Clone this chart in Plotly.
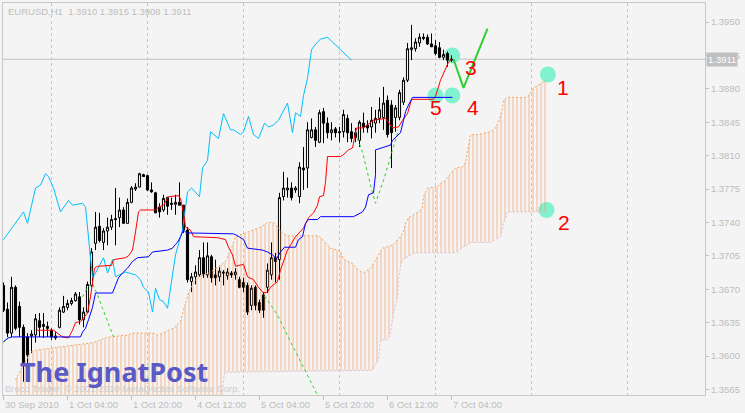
import plotly.graph_objects as go

# ---------------- data ----------------
time_tick_idx = [0, 16, 32, 48, 64, 80, 96, 112]
time_tick_text = ["30 Sep 2010", "1 Oct 04:00", "1 Oct 20:00", "4 Oct 12:00",
                  "5 Oct 04:00", "5 Oct 20:00", "6 Oct 12:00", "7 Oct 04:00"]
price_ticks = [1.3565, 1.3600, 1.3635, 1.3670, 1.3705, 1.3740, 1.3775,
               1.3810, 1.3845, 1.3880, 1.3915, 1.3950]

bar_idx = list(range(113))
opens = [1.3674,1.3649,1.3624,1.3672,1.3652,1.3630,1.3620,1.3621,1.3622,1.3637,
         1.3631,1.3631,1.3627,1.3619,1.3630,1.3646,1.3651,1.3655,1.3658,1.3662,
         1.3638,1.3646,1.3674,1.3718,1.3736,1.3719,1.3731,1.3735,1.3744,1.3745,
         1.3753,1.3739,1.3761,1.3775,1.3777,1.3790,1.3789,1.3774,1.3771,1.3756,
         1.3753,1.3766,1.3760,1.3759,1.3761,1.3758,1.3732,1.3678,1.3683,1.3685,
         1.3703,1.3685,1.3704,1.3685,1.3683,1.3688,1.3684,1.3687,1.3685,1.3680,
         1.3677,1.3674,1.3653,1.3672,1.3656,1.3664,1.3672,1.3685,1.3703,1.3701,
         1.3767,1.3774,1.3776,1.3774,1.3767,1.3797,1.3797,1.3829,1.3837,1.3824,
         1.3856,1.3844,1.3834,1.3838,1.3834,1.3835,1.3849,1.3835,1.3834,1.3826,
         1.3844,1.3842,1.3840,1.3844,1.3849,1.3850,1.3868,1.3863,1.3850,1.3850,
         1.3866,1.3889,1.3921,1.3922,1.3928,1.3934,1.3934,1.3927,1.3925,1.3923,
         1.3913,1.3917,1.3910]
highs = [1.3677,1.3656,1.3683,1.3674,1.3657,1.3633,1.3624,1.3627,1.3644,1.3645,
         1.3645,1.3636,1.3629,1.3625,1.3651,1.3663,1.3659,1.3661,1.3667,1.3667,
         1.3651,1.3678,1.3713,1.3751,1.3750,1.3734,1.3745,1.3748,1.3776,1.3766,
         1.3756,1.3765,1.3778,1.3781,1.3792,1.3791,1.3790,1.3782,1.3772,1.3760,
         1.3769,1.3767,1.3766,1.3769,1.3782,1.3758,1.3735,1.3687,1.3695,1.3711,
         1.3719,1.3719,1.3706,1.3701,1.3693,1.3690,1.3692,1.3689,1.3692,1.3683,
         1.3682,1.3677,1.3674,1.3674,1.3659,1.3667,1.3697,1.3719,1.3708,1.3771,
         1.3793,1.3787,1.3782,1.3778,1.3803,1.3819,1.3845,1.3849,1.3840,1.3858,
         1.3860,1.3850,1.3845,1.3840,1.3840,1.3858,1.3853,1.3844,1.3839,1.3847,
         1.3855,1.3847,1.3861,1.3858,1.3871,1.3882,1.3873,1.3868,1.3863,1.3879,
         1.3892,1.3928,1.3947,1.3933,1.3938,1.3938,1.3937,1.3938,1.3931,1.3929,
         1.3921,1.3919,1.3915]
lows = [1.3646,1.3620,1.3620,1.3627,1.3620,1.3573,1.3582,1.3603,1.3614,1.3620,
        1.3619,1.3620,1.3617,1.3617,1.3629,1.3645,1.3648,1.3653,1.3657,1.3633,
        1.3630,1.3645,1.3672,1.3711,1.3719,1.3711,1.3716,1.3732,1.3716,1.3735,
        1.3739,1.3739,1.3760,1.3773,1.3777,1.3788,1.3773,1.3771,1.3750,1.3745,
        1.3751,1.3748,1.3753,1.3748,1.3758,1.3729,1.3677,1.3667,1.3675,1.3683,
        1.3682,1.3682,1.3677,1.3674,1.3678,1.3674,1.3680,1.3682,1.3680,1.3671,
        1.3667,1.3643,1.3648,1.3648,1.3645,1.3640,1.3666,1.3680,1.3677,1.3680,
        1.3763,1.3766,1.3763,1.3771,1.3760,1.3774,1.3776,1.3828,1.3819,1.3823,
        1.3823,1.3828,1.3826,1.3829,1.3824,1.3829,1.3824,1.3824,1.3824,1.3819,
        1.3834,1.3834,1.3828,1.3834,1.3844,1.3837,1.3829,1.3797,1.3835,1.3847,
        1.3863,1.3887,1.3910,1.3919,1.3924,1.3931,1.3926,1.3924,1.3915,1.3912,
        1.3910,1.3903,1.3908]
closes = [1.3648,1.3624,1.3672,1.3629,1.3630,1.3593,1.3601,1.3623,1.3639,1.3630,
          1.3633,1.3629,1.3620,1.3621,1.3648,1.3652,1.3655,1.3658,1.3665,1.3638,
          1.3646,1.3675,1.3709,1.3735,1.3721,1.3731,1.3735,1.3743,1.3743,1.3753,
          1.3739,1.3761,1.3776,1.3777,1.3791,1.3788,1.3774,1.3772,1.3750,1.3751,
          1.3765,1.3757,1.3759,1.3761,1.3758,1.3732,1.3680,1.3683,1.3688,1.3703,
          1.3686,1.3705,1.3682,1.3682,1.3689,1.3687,1.3688,1.3685,1.3688,1.3672,
          1.3672,1.3646,1.3671,1.3653,1.3648,1.3648,1.3690,1.3703,1.3699,1.3766,
          1.3776,1.3776,1.3766,1.3776,1.3798,1.3795,1.3837,1.3837,1.3826,1.3855,
          1.3844,1.3834,1.3837,1.3834,1.3835,1.3853,1.3834,1.3828,1.3829,1.3845,
          1.3840,1.3839,1.3847,1.3849,1.3858,1.3865,1.3832,1.3834,1.3860,1.3876,
          1.3889,1.3922,1.3923,1.3929,1.3934,1.3933,1.3927,1.3924,1.3917,1.3913,
          1.3916,1.3910,1.3911]

tenkan_x = [8.25,12.5,14.75,16.25,17.25,18,19.25,20,21,21.75,22.25,22.75,23.5,27,27.5,
            30.5,31.25,32.25,33,33.75,34.25,38,38.75,40,41.25,43.75,44.25,45,45.5,46.75,
            47.5,53.5,55.5,56.25,57.25,58,60,61,62.5,63.75,65,66,66.75,68.5,69.25,
            71,73,75,76.25,77.5,78.5,79,80,80.5,81,84.25,85,86.25,87.25,88,
            88.25,90,91.75,92.5,95.5,97.25,98.75,99.75,101,102,107.5,108,109.25,110.5,111.25,112]
tenkan = [1.3627,1.3627,1.3620,1.3619,1.3627,1.3635,1.3636,1.3640,1.3645,1.3662,
          1.3677,1.3692,1.3694,1.3695,1.3701,1.3703,1.3705,1.3711,1.3730,1.3751,
          1.3753,1.3753,1.3756,1.3758,1.3767,1.3768,1.3765,1.3750,1.3735,1.3732,
          1.3725,1.3724,1.3722,1.3714,1.3706,1.3694,1.3696,1.3683,1.3680,1.3672,
          1.3666,1.3667,1.3672,1.3678,1.3690,1.3711,1.3725,1.3734,1.3745,1.3750,
          1.3758,1.3767,1.3768,1.3782,1.3809,1.3809,1.3811,1.3816,1.3818,1.3832,
          1.3839,1.3839,1.3845,1.3847,1.3849,1.3839,1.3840,1.3847,1.3854,1.3869,
          1.3869,1.3872,1.3889,1.3902,1.3908,1.3911]

kijun_x = [0,1.25,2.25,19.25,19.75,20.5,21.25,22.25,23,27.25,28,28.75,29.75,31,32.25,
           33.5,36.25,37.25,41,42.25,43,43.5,44.25,45,45.75,57.5,58.5,60,61,64.75,
           66,67.25,68.25,69.25,70.25,73,73.75,74.75,75.5,76.25,78.5,79.25,87.5,88.5,89.75,
           90.5,91.25,92.5,93,93,95.5,96.75,97.25,98,98.75,99.25,100,100.5,101.25,102.25,112.25]
kijun = [1.3615,1.3619,1.3620,1.3620,1.3625,1.3629,1.3638,1.3651,1.3666,1.3666,
         1.3674,1.3682,1.3687,1.3692,1.3699,1.3703,1.3704,1.3709,1.3711,1.3713,
         1.3717,1.3719,1.3725,1.3732,1.3729,1.3728,1.3726,1.3722,1.3713,1.3711,
         1.3709,1.3706,1.3702,1.3709,1.3714,1.3714,1.3722,1.3725,1.3739,1.3743,
         1.3743,1.3746,1.3746,1.3748,1.3751,1.3756,1.3769,1.3771,1.3790,1.3816,
         1.3819,1.3821,1.3826,1.3829,1.3831,1.3834,1.3847,1.3856,1.3863,1.3871,1.3871]

chikou_x = [0,3.5,5,6,8,9.25,10.5,11.25,12.5,14.25,16.25,17.25,19.75,20.5,21.75,
            22.25,23,25,26,27.25,28,30.5,33,34.25,35,36.25,37.25,38,39,40,
            41,42.25,43,44.75,46,47,48,49,49.75,51,51.75,52.5,53.75,55,56.75,
            57.5,59.25,60,61.25,62.5,63.75,65.25,66.25,67.5,68.75,71,72.25,73,74.25,75,
            76,77,78.25,79.25,81,82.25,84.25,86,87]
chikou = [1.3722,1.3743,1.3751,1.3739,1.3776,1.3779,1.3791,1.3788,1.3776,1.3751,
          1.3763,1.3758,1.3760,1.3756,1.3708,1.3682,1.3687,1.3703,1.3687,1.3701,
          1.3683,1.3688,1.3685,1.3680,1.3672,1.3667,1.3646,1.3671,1.3659,1.3657,
          1.3650,1.3687,1.3706,1.3732,1.3772,1.3776,1.3772,1.3767,1.3797,1.3805,
          1.3835,1.3832,1.3828,1.3854,1.3837,1.3837,1.3832,1.3835,1.3851,1.3832,
          1.3828,1.3844,1.3840,1.3842,1.3847,1.3865,1.3834,1.3855,1.3851,1.3873,
          1.3891,1.3921,1.3928,1.3932,1.3934,1.3929,1.3921,1.3913,1.3910]

senkou_a_x = [3,5,6.75,8,11.75,16.75,22.5,25.5,26.75,31,32.5,37.5,38.5,40,41.25,
              42.5,44.25,45,46.25,47.5,48.5,50.5,51.75,53,54.25,55.5,56.25,57.25,58,59.25,
              60.5,62.25,63.75,65,66,67.5,68.75,69.75,71,78.75,80,81.75,84.25,85,87.25,
              88.75,90,91.75,92.5,93.5,94.75,97.25,98.5,99.25,100,100.5,101.25,102.5,103.75,104.75,
              105,106,108.5,109.25,110,111.25,112.25,113,114.75,115.5,116.75,118.5,121.75,123,123.75,
              124.75,125,126,131,131.75,132.5,133.75,135,136]
senkou_a = [1.3575,1.3591,1.3604,1.3606,1.3608,1.3611,1.3614,1.3619,1.3620,1.3622,
            1.3624,1.3624,1.3622,1.3624,1.3627,1.3629,1.3636,1.3648,1.3666,1.3677,
            1.3682,1.3686,1.3688,1.3692,1.3695,1.3699,1.3706,1.3716,1.3725,1.3727,
            1.3729,1.3732,1.3734,1.3737,1.3740,1.3740,1.3734,1.3729,1.3726,1.3726,
            1.3721,1.3713,1.3710,1.3701,1.3697,1.3690,1.3687,1.3692,1.3697,1.3704,
            1.3713,1.3716,1.3722,1.3725,1.3730,1.3739,1.3745,1.3748,1.3751,1.3755,
            1.3767,1.3776,1.3777,1.3781,1.3782,1.3788,1.3793,1.3797,1.3798,1.3803,
            1.3832,1.3832,1.3835,1.3839,1.3845,1.3860,1.3868,1.3871,1.3871,1.3876,
            1.3881,1.3884,1.3887,1.3891]
senkou_b_x = [3,54.25,55.25,92.25,93,93.75,94.25,96,96.75,97.25,97.5,98.5,98.75,99.25,
              99.75,101,102.5,111.75,113.5,114.75,115.5,116.75,121.75,124.25,125,126,136]
senkou_b = [1.3544,1.3544,1.3583,1.3585,1.3591,1.3596,1.3617,1.3617,1.3624,1.3638,
            1.3645,1.3662,1.3680,1.3694,1.3701,1.3704,1.3708,1.3708,1.3709,1.3714,
            1.3715,1.3719,1.3719,1.3725,1.3739,1.3751,1.3751]

lime_x = [0,1.25,None,19.75,21,22.25,23.5,24.75,26.25,27.5,None,
          65.25,68.5,71.75,78.75,None,88.5,89.75,91.75,93,95,97.25,98.75]
lime_y = [1.3614,1.3620,None,1.3662,1.3672,1.3676,1.3664,1.3650,1.3633,1.3620,None,
          1.3663,1.3643,1.3615,1.3557,None,1.3828,1.3814,1.3779,1.3760,1.3784,1.3816,1.3837]

forecast_x = [112.5, 115, 121]
forecast_y = [1.3911, 1.3881, 1.3943]

circle_x = [136.1, 135.75, 112.2, 112.2, 108]
circle_y = [1.3895, 1.3753, 1.3915, 1.3873, 1.3873]
label_text = ["1", "2", "3", "4", "5"]
label_x = [139.75, 140, 116.75, 117.25, 108]
label_y = [1.3881, 1.3740, 1.3902, 1.3860, 1.3860]

symbol = "EURUSD,H1"
BG = "#f4f4f4"
GRAYTXT = "#bdbdbd"
FONT = "Liberation Sans"

# ---------------- figure ----------------
fig = go.Figure()

fig.add_trace(go.Candlestick(
    x=bar_idx, open=opens, high=highs, low=lows, close=closes,
    increasing=dict(line=dict(color="black", width=1), fillcolor=BG),
    decreasing=dict(line=dict(color="black", width=1), fillcolor="black"),
    whiskerwidth=0, hoverinfo="skip", showlegend=False))

# kumo hatch
fig.add_trace(go.Scatter(
    x=senkou_a_x + senkou_b_x[::-1], y=senkou_a + senkou_b[::-1],
    mode="none", fill="toself", fillcolor="rgba(0,0,0,0)",
    fillpattern=dict(shape="|", fgcolor="#EE9A5C", bgcolor="rgba(0,0,0,0)",
                     size=4, solidity=0.25, fgopacity=0.65),
    hoverinfo="skip", showlegend=False))
fig.add_trace(go.Scatter(x=senkou_a_x, y=senkou_a, mode="lines",
                         line=dict(color="#F4A460", width=1, dash="2px,2px"),
                         hoverinfo="skip", showlegend=False))
fig.add_trace(go.Scatter(x=senkou_b_x, y=senkou_b, mode="lines",
                         line=dict(color="#D8BFD8", width=1, dash="2px,2px"),
                         hoverinfo="skip", showlegend=False))

fig.add_trace(go.Scatter(x=lime_x, y=lime_y, mode="lines", connectgaps=False,
                         line=dict(color="#32CD32", width=1, dash="3px,3px"),
                         hoverinfo="skip", showlegend=False))
fig.add_trace(go.Scatter(x=chikou_x, y=chikou, mode="lines",
                         line=dict(color="#00BFFF", width=1),
                         hoverinfo="skip", showlegend=False))
fig.add_trace(go.Scatter(x=tenkan_x, y=tenkan, mode="lines",
                         line=dict(color="#FF0000", width=1),
                         hoverinfo="skip", showlegend=False))
fig.add_trace(go.Scatter(x=kijun_x, y=kijun, mode="lines",
                         line=dict(color="#0000FF", width=1),
                         hoverinfo="skip", showlegend=False))
fig.add_trace(go.Scatter(x=forecast_x, y=forecast_y, mode="lines",
                         line=dict(color="#32CD32", width=2),
                         hoverinfo="skip", showlegend=False))

# circles (behind traces)
for cx, cy in zip(circle_x, circle_y):
    fig.add_shape(type="circle", xref="x", yref="y", layer="between",
                  xsizemode="pixel", ysizemode="pixel",
                  xanchor=cx, yanchor=cy, x0=-8, x1=8, y0=-8, y1=8,
                  fillcolor="#80F2D0", line=dict(width=0))

# bid line
fig.add_shape(type="line", xref="paper", x0=0, x1=1, yref="y",
              y0=closes[-1], y1=closes[-1], line=dict(color="#c0c0c0", width=1),
              layer="between")

annotations = []
for t, lx, ly in zip(label_text, label_x, label_y):
    annotations.append(dict(x=lx, y=ly, xref="x", yref="y", text=t, showarrow=False,
                            font=dict(family=FONT, size=21, color="#FF0000")))
for ti, tt in zip(time_tick_idx, time_tick_text):
    annotations.append(dict(x=ti, y=0, xref="x", yref="paper", text=tt, showarrow=False,
                            xanchor="left", yanchor="top", xshift=-1, yshift=-2,
                            font=dict(family=FONT, size=9.5, color=GRAYTXT)))
annotations.append(dict(x=1, xref="paper", y=closes[-1], yref="y",
                        text=f"{closes[-1]:.4f}", showarrow=False, xanchor="left",
                        xshift=1, bgcolor="#c0c0c0", borderpad=1,
                        font=dict(family=FONT, size=9.5, color="white")))
header = (f"{symbol}\u00a0\u00a0{opens[-1]:.4f} {highs[-1]:.4f} "
          f"{lows[-1]:.4f} {closes[-1]:.4f}")
annotations.append(dict(x=0, y=1, xref="paper", yref="paper", text=header,
                        showarrow=False, xanchor="left", yanchor="top",
                        xshift=3, yshift=-1,
                        font=dict(family=FONT, size=9.5, color=GRAYTXT)))
annotations.append(dict(x=0, y=0, xref="paper", yref="paper",
                        text="Broco Trader, \u00a9 2001-2010 MetaQuotes Software Corp.",
                        showarrow=False, xanchor="left", yanchor="bottom",
                        xshift=0, yshift=-1,
                        font=dict(family=FONT, size=9.5, color="#cccccc")))
annotations.append(dict(x=0.0214, y=0.0612, xref="paper", yref="paper",
                        text="The IgnatPost", showarrow=False,
                        xanchor="left", yanchor="middle",
                        font=dict(family="Noto Sans", size=27, color="#5a5ac6",
                                  weight=700)))

fig.update_layout(
    width=745, height=413,
    margin=dict(l=3, r=40, t=3, b=18, pad=0),
    paper_bgcolor=BG, plot_bgcolor=BG,
    showlegend=False, boxgap=0.25,
    annotations=annotations,
    xaxis=dict(range=[-0.125, 175.375], rangeslider=dict(visible=False),
               tickmode="linear", tick0=12, dtick=24, ticks="",
               showticklabels=False, showgrid=True, gridcolor="#c8c8c8",
               gridwidth=1, griddash="3px,3px", zeroline=False,
               showline=True, linecolor="#c8c8c8", linewidth=1, mirror=True,
               minor=dict(tickmode="array", tickvals=time_tick_idx,
                          ticks="outside", ticklen=4, tickcolor="#c0c0c0",
                          showgrid=False)),
    yaxis=dict(range=[1.355913, 1.396991], side="right",
               tickmode="array", tickvals=price_ticks,
               ticktext=[f"{v:.4f}" for v in price_ticks],
               ticks="outside", ticklen=3, tickcolor="#c0c0c0",
               tickfont=dict(family=FONT, size=9.5, color=GRAYTXT),
               showgrid=False, zeroline=False,
               showline=True, linecolor="#c8c8c8", linewidth=1, mirror=True),
)

fig.write_html("out.html", config={"displayModeBar": False, "staticPlot": True},
               post_script="document.body.style.margin='0';"
                           "document.body.style.background='#f4f4f4';")
